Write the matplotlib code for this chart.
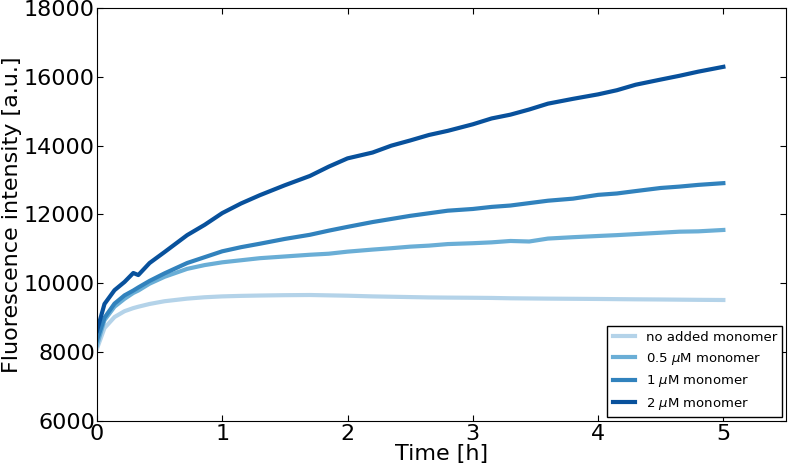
import matplotlib
matplotlib.use("Agg")
import matplotlib.pyplot as plt

# time axis [h]
time_h = [0, 0.06, 0.14, 0.22, 0.29, 0.33, 0.42, 0.54, 0.72, 0.86,
          1.0, 1.15, 1.3, 1.5, 1.7, 1.85, 2.0, 2.2, 2.35, 2.5,
          2.65, 2.8, 3.0, 3.15, 3.3, 3.45, 3.6, 3.8, 4.0, 4.15,
          4.3, 4.5, 4.65, 4.8, 5.0]

no_monomer = [8100, 8700, 9020, 9190, 9280, 9320, 9400, 9480, 9555, 9595,
              9620, 9635, 9645, 9655, 9660, 9650, 9640, 9620, 9610, 9600,
              9590, 9585, 9580, 9575, 9565, 9560, 9555, 9550, 9545, 9540,
              9535, 9530, 9525, 9520, 9515]

half_uM = [8200, 8930, 9320, 9550, 9720, 9790, 9990, 10190, 10420, 10530,
           10610, 10670, 10730, 10780, 10830, 10860, 10920, 10980, 11020, 11065,
           11095, 11140, 11165, 11190, 11230, 11215, 11300, 11340, 11375, 11400,
           11430, 11470, 11500, 11510, 11550]

one_uM = [8350, 9000, 9410, 9650, 9790, 9880, 10070, 10290, 10590, 10760,
          10930, 11050, 11150, 11290, 11410, 11530, 11640, 11780, 11870, 11960,
          12035, 12110, 12160, 12220, 12260, 12330, 12400, 12460, 12570, 12610,
          12680, 12770, 12810, 12860, 12910]

two_uM = [8620, 9400, 9800, 10040, 10300, 10240, 10590, 10910, 11400, 11700,
          12040, 12320, 12560, 12850, 13120, 13390, 13630, 13800, 14000, 14150,
          14310, 14430, 14620, 14790, 14900, 15050, 15220, 15360, 15490, 15610,
          15770, 15920, 16030, 16150, 16290]

labels = ["no added monomer", r"0.5 $\mu$M monomer",
          r"1 $\mu$M monomer", r"2 $\mu$M monomer"]
colors = ["#b4d3e9", "#6aaed6", "#3182bd", "#08519c"]

fig = plt.figure(figsize=(7.89, 4.66), dpi=100)
ax = fig.add_axes([0.1229, 0.0966, 0.8733, 0.8863])

for series, lab, col in zip([no_monomer, half_uM, one_uM, two_uM], labels, colors):
    ax.plot(time_h, series, color=col, lw=3, label=lab)

ax.set_xlim(0, 5.5)
ax.set_ylim(6000, 18000)
ax.set_xticks([0, 1, 2, 3, 4, 5])
ax.set_yticks(range(6000, 18001, 2000))

ax.tick_params(direction="in", top=True, right=True, length=4, labelsize=16)
ax.tick_params(axis="x", pad=2)
ax.tick_params(axis="y", pad=1.5)

ax.set_xlabel("Time [h]", fontsize=16, labelpad=0)
ax.set_ylabel("Fluorescence intensity [a.u.]", fontsize=16, labelpad=1)

leg = ax.legend(loc="lower right", fontsize=9.5, handlelength=1.7,
                borderaxespad=0.3, fancybox=False, framealpha=1)
leg.get_frame().set_edgecolor("black")

fig.savefig("out.png", dpi=100)
